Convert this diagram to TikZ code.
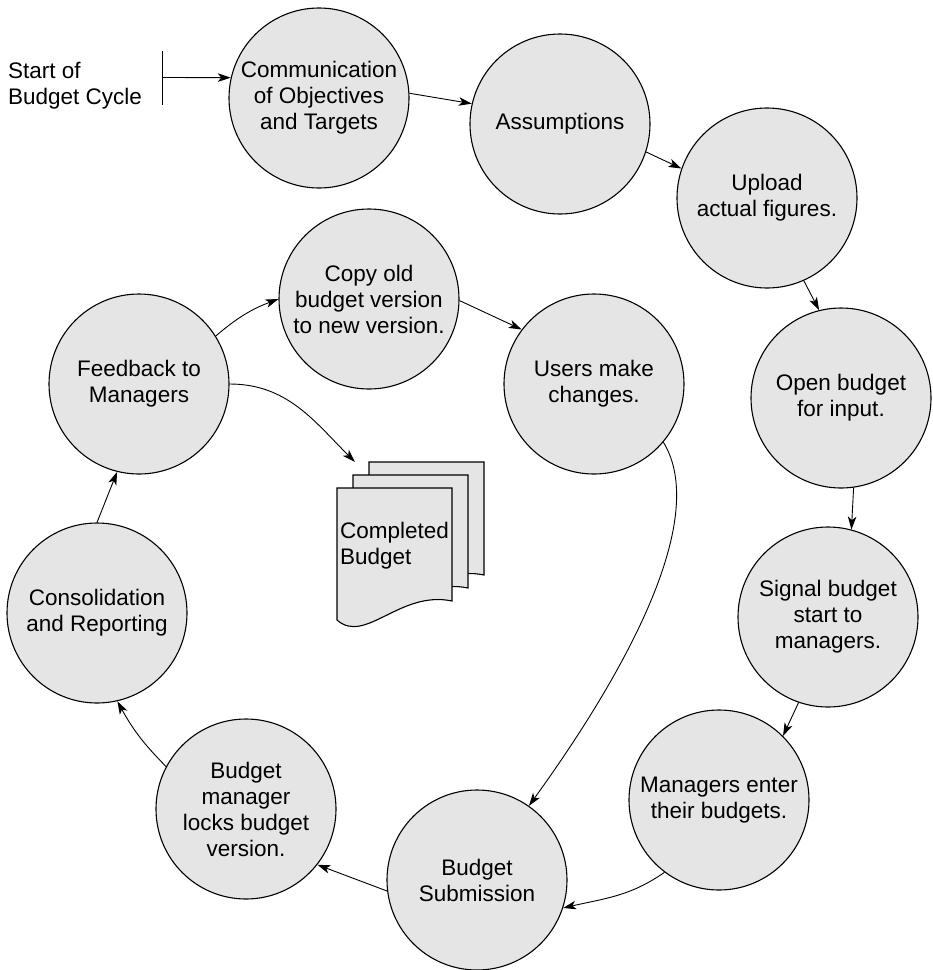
\documentclass[tikz,border=0pt]{standalone}
\usepackage{fontspec}
\setmainfont{Liberation Sans}
\usetikzlibrary{arrows.meta}
\definecolor{cfill}{RGB}{229,229,229}
\begin{document}
\begin{tikzpicture}[x=1pt,y=-1pt,
  circ/.style={circle,draw,fill=cfill,line width=1.1pt,minimum size=180pt,inner sep=0pt,align=center,font=\fontsize{22.5}{26}\selectfont},
  arr/.style={-{Stealth[length=13pt,width=8.5pt,inset=3.5pt]},line width=0.9pt},
  lbl/.style={inner sep=0pt,align=left,font=\fontsize{22.5}{26}\selectfont},
  docshape/.style={draw,fill=cfill,line width=1.1pt}]
\useasboundingbox (0,0) rectangle (933,970);

% start marker
\node[lbl,anchor=west] (start) at (8,86) {Start of\\Budget Cycle};
\coordinate (bartop) at (162,51);
\coordinate (barbot) at (162,105);
\coordinate (barmid) at (162,77.5);
\draw[line width=0.9pt] (bartop) -- (barbot);

% process circles
\node[circ] (comm) at (319,98) {Communication\\of Objectives\\and Targets};
\node[circ] (assum) at (560,124) {Assumptions};
\node[circ] (upload) at (767,198) {Upload\\actual figures.};
\node[circ] (open) at (841,398) {Open budget\\for input.};
\node[circ] (signal) at (828,617) {Signal budget\\start to\\managers.};
\node[circ] (mgr) at (719,800) {Managers enter\\their budgets.};
\node[circ] (sub) at (477,880) {Budget\\Submission};
\node[circ] (lock) at (246,809) {Budget\\manager\\locks budget\\version.};
\node[circ] (cons) at (97,613) {Consolidation\\and Reporting};
\node[circ] (fb) at (139,384) {Feedback to\\Managers};
\node[circ] (copy) at (369,299) {Copy old\\budget version\\to new version.};
\node[circ] (users) at (594,384) {Users make\\changes.};

% completed budget document stack
\foreach \dx/\dy in {32/-26,16/-13,0/0}{
  \begin{scope}[shift={(\dx,\dy)}]
    \draw[docshape] (337,488) -- (452,488) -- (452,601)
      .. controls (400,590) and (365,645) .. (337,620) -- cycle;
  \end{scope}
}
\node[lbl,anchor=west] (doc) at (340,545.5) {Completed\\Budget};
\coordinate (docin) at (355,462);

% connectors
\draw[arr] (barmid) -- (comm.167);
\draw[arr] (comm.3) -- (assum.167);
\draw[arr] (assum.-18) -- (upload.161);
\draw[arr] (upload.-66) -- (open.104);
\draw[arr] (open.-82) -- (signal.75);
\draw[arr] (signal.-109) -- (mgr.45);
\draw[arr] (mgr.-127) to[out=-145,in=13] (sub.-18);
\draw[arr] (sub.-173) -- (lock.-38);
\draw[arr] (lock.152) to[bend left=8] (cons.-77);
\draw[arr] (cons.90) -- (fb.-104);
\draw[arr] (fb.32) to[bend left=10] (copy.180);
\draw[arr] (copy.-1) -- (users.143);
\draw[arr] (users.-40) .. controls (705,510) and (645,645) .. (sub.55);
\draw[arr] (fb.0) to[out=0,in=135] (docin);
\end{tikzpicture}
\end{document}
